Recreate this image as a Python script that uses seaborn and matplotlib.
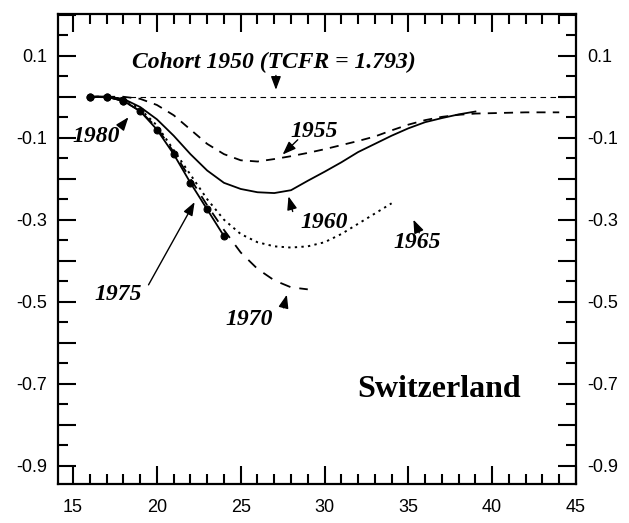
import numpy as np
import pandas as pd
import seaborn as sns
import matplotlib.pyplot as plt
from matplotlib.ticker import MultipleLocator, FuncFormatter

# cohort curves
ages_1950 = list(range(16, 46))
vals_1950 = [0.0] * len(ages_1950)

ages_1955 = list(range(16, 45))
vals_1955 = [0.0, 0.0, 0.0, -0.005, -0.02, -0.045, -0.08, -0.115, -0.14, -0.155,
             -0.158, -0.152, -0.145, -0.137, -0.128, -0.118, -0.108, -0.097, -0.082,
             -0.068, -0.057, -0.049, -0.044, -0.041, -0.04, -0.039, -0.038, -0.038, -0.038]

ages_1960 = list(range(16, 40))
vals_1960 = [0.0, 0.0, -0.005, -0.025, -0.055, -0.095, -0.14, -0.18, -0.21, -0.225,
             -0.233, -0.235, -0.228, -0.205, -0.183, -0.16, -0.135, -0.115, -0.095,
             -0.077, -0.062, -0.052, -0.043, -0.036]

ages_1965 = list(range(16, 35))
vals_1965 = [0.0, 0.0, -0.005, -0.03, -0.07, -0.13, -0.19, -0.25, -0.30, -0.335,
             -0.355, -0.365, -0.368, -0.365, -0.355, -0.335, -0.31, -0.285, -0.26]

ages_1970 = list(range(16, 30))
vals_1970 = [0.0, 0.0, -0.01, -0.035, -0.075, -0.135, -0.20, -0.265, -0.325, -0.38,
             -0.42, -0.448, -0.465, -0.47]

ages_1975 = list(range(16, 25))
vals_1975 = [0.0, 0.0, -0.01, -0.035, -0.08, -0.14, -0.21, -0.275, -0.34]

ages_1980 = [16, 17, 18]
vals_1980 = [0.0, 0.0, -0.01]

plt.rcParams['font.family'] = ['Liberation Sans', 'DejaVu Sans']
fig = plt.figure(figsize=(6.29, 5.23), dpi=100)
ax = fig.add_axes([58 / 629, 1 - 484 / 523, (576 - 58) / 629, (484 - 14) / 523])

k = dict(ax=ax, color='black', legend=False)
sns.lineplot(x=ages_1950, y=vals_1950, linewidth=0.8, linestyle=(0, (5, 4)), **k)
sns.lineplot(x=ages_1955, y=vals_1955, linewidth=1.3, linestyle=(0, (5, 4)), **k)
sns.lineplot(x=ages_1960, y=vals_1960, linewidth=1.3, **k)
sns.lineplot(x=ages_1965, y=vals_1965, linewidth=1.4, linestyle=(0, (1.2, 2.2)), **k)
sns.lineplot(x=ages_1970, y=vals_1970, linewidth=1.3, linestyle=(0, (6, 5)), **k)
sns.lineplot(x=ages_1975, y=vals_1975, linewidth=1.3, marker='o', markersize=5,
             markeredgecolor='black', **k)
sns.lineplot(x=ages_1980, y=vals_1980, linewidth=1.3, marker='o', markersize=5,
             markeredgecolor='black', **k)

ax.set_xlim(14.1, 45)
ax.set_ylim(-0.945, 0.202)
ax.xaxis.set_major_locator(MultipleLocator(5))
ax.xaxis.set_minor_locator(MultipleLocator(1))
ax.yaxis.set_major_locator(MultipleLocator(0.1))
ax.yaxis.set_minor_locator(MultipleLocator(0.05))


def odd_tenths(v, pos):
    n = int(round(v * 10))
    return f"{v:.1f}" if n % 2 else ""


ax.yaxis.set_major_formatter(FuncFormatter(odd_tenths))
ax.tick_params(which='both', direction='in', top=True, right=True, labelright=True,
               width=1.5, labelsize=13, pad=8)
ax.tick_params(axis='x', which='major', pad=11)
ax.tick_params(which='major', length=13)
ax.tick_params(which='minor', length=7)
for s in ax.spines.values():
    s.set_linewidth(1.6)
ax.set_xlabel('')
ax.set_ylabel('')

serif = dict(family=['Liberation Serif', 'DejaVu Serif'], fontweight='bold',
             fontstyle='italic', fontsize=17)
arrow = dict(arrowstyle='-|>,head_length=0.8,head_width=0.3', color='black', lw=1.0,
             shrinkA=0, shrinkB=0)

ax.text(27.0, 0.083, 'Cohort 1950 (TCFR = 1.793)', ha='center', va='center', **serif)
ax.annotate('', xy=(27.1, 0.017), xytext=(27.1, 0.052), arrowprops=arrow)

ax.text(29.4, -0.085, '1955', ha='center', va='center', **serif)
ax.annotate('', xy=(27.5, -0.141), xytext=(28.4, -0.105), arrowprops=arrow)

ax.text(30.0, -0.307, '1960', ha='center', va='center', **serif)
ax.annotate('', xy=(27.85, -0.243), xytext=(28.1, -0.28), arrowprops=arrow)

ax.text(35.5, -0.356, '1965', ha='center', va='center', **serif)
ax.annotate('', xy=(35.3, -0.30), xytext=(35.65, -0.332), arrowprops=arrow)

ax.text(25.5, -0.544, '1970', ha='center', va='center', **serif)
ax.annotate('', xy=(27.75, -0.483), xytext=(27.55, -0.515), arrowprops=arrow)

ax.text(17.7, -0.483, '1975', ha='center', va='center', **serif)
ax.annotate('', xy=(22.25, -0.257), xytext=(19.5, -0.459), arrowprops=arrow)

ax.text(16.4, -0.098, '1980', ha='center', va='center', **serif)
ax.annotate('', xy=(18.3, -0.05), xytext=(17.95, -0.068), arrowprops=arrow)

ax.text(36.85, -0.715, 'Switzerland', ha='center', va='center',
        family=['Liberation Serif', 'DejaVu Serif'], fontweight='bold', fontsize=23)

fig.savefig('out.png', dpi=100)
